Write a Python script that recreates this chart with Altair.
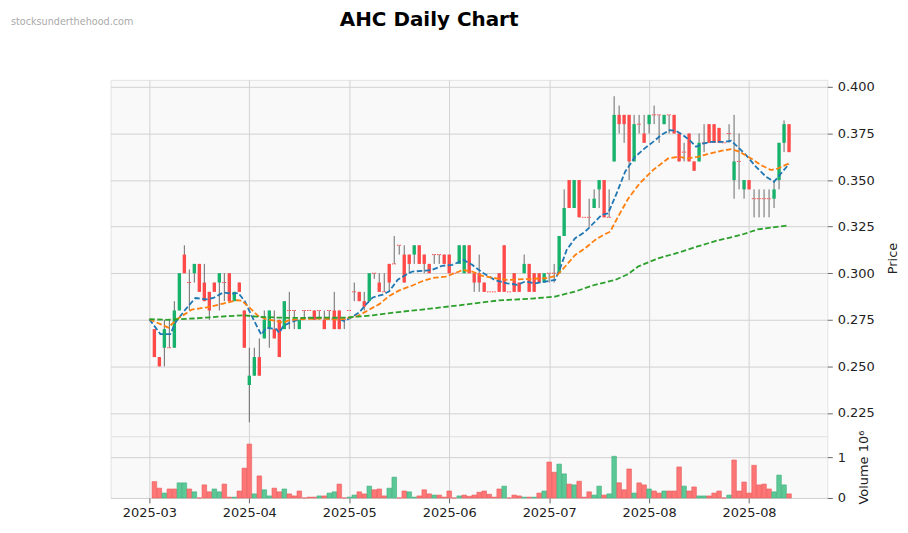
import json
import altair as alt
import pandas as pd
import numpy as np

title_text = "AHC Daily Chart"
watermark = "stocksunderthehood.com"

tick_idx = [0, 20, 40, 60, 80, 100, 120]
tick_labels = ["2025-03", "2025-04", "2025-05", "2025-06", "2025-07", "2025-08", "2025-08"]
price_ticks = [0.225, 0.250, 0.275, 0.300, 0.325, 0.350, 0.375, 0.400]

opens = [
    .270, .255, .260, .260, .260, .280, .310, .295, .300, .305,
    .295, .290, .295, .295, .295, .300, .285, .295, .280, .240,
    .245, .255, .265, .270, .270, .275, .270, .280, .280, .270,
    .280, .280, .280, .280, .275, .280, .280, .280, .275, .280,
    .290, .290, .285, .285, .300, .295, .290, .305, .305, .315,
    .310, .310, .310, .315, .310, .305, .310, .310, .310, .310,
    .300, .305, .300, .315, .300, .300, .295, .290, .290, .300,
    .315, .290, .300, .295, .300, .305, .300, .300, .295, .300,
    .300, .300, .320, .350, .335, .350, .330, .330, .335, .345,
    .350, .330, .360, .385, .385, .385, .360, .380, .375, .380,
    .385, .385, .380, .385, .385, .375, .365, .375, .360, .360,
    .370, .380, .380, .378, .370, .375, .350, .360, .345, .350,
    .340, .340, .340, .340, .340, .350, .370, .380]
highs = [
    .270, .255, .275, .275, .285, .300, .315, .302, .305, .305,
    .305, .290, .295, .300, .300, .300, .290, .295, .280, .260,
    .260, .265, .280, .280, .280, .275, .285, .290, .280, .275,
    .280, .280, .280, .280, .280, .280, .290, .280, .275, .280,
    .295, .290, .290, .300, .300, .300, .300, .305, .320, .315,
    .315, .310, .315, .315, .310, .305, .310, .310, .310, .310,
    .300, .315, .315, .315, .300, .310, .295, .290, .290, .300,
    .315, .290, .300, .295, .310, .305, .300, .300, .300, .300,
    .305, .320, .345, .350, .350, .350, .330, .340, .345, .350,
    .350, .345, .395, .390, .385, .385, .385, .385, .385, .385,
    .390, .385, .385, .385, .385, .375, .370, .375, .360, .375,
    .380, .380, .380, .378, .370, .380, .385, .375, .350, .350,
    .345, .345, .345, .345, .350, .370, .382, .380]
lows = [
    .255, .250, .250, .260, .260, .280, .300, .280, .295, .290,
    .285, .275, .290, .280, .285, .285, .285, .290, .260, .220,
    .245, .245, .265, .260, .265, .255, .270, .270, .270, .270,
    .275, .280, .275, .275, .270, .275, .270, .270, .270, .280,
    .285, .285, .280, .285, .297, .290, .290, .290, .305, .310,
    .295, .300, .305, .305, .300, .300, .305, .305, .305, .300,
    .300, .305, .300, .300, .290, .290, .290, .290, .290, .290,
    .290, .290, .290, .290, .300, .290, .290, .295, .295, .295,
    .295, .300, .320, .335, .335, .330, .330, .325, .335, .335,
    .330, .330, .360, .375, .370, .350, .360, .375, .370, .375,
    .380, .370, .380, .375, .375, .360, .360, .360, .355, .360,
    .365, .370, .370, .370, .370, .370, .340, .345, .340, .345,
    .330, .330, .330, .330, .335, .345, .365, .365]
closes = [
    .255, .250, .270, .260, .280, .300, .300, .295, .305, .290,
    .285, .280, .290, .300, .295, .285, .290, .290, .260, .245,
    .255, .245, .275, .280, .265, .255, .285, .280, .280, .275,
    .280, .280, .275, .280, .270, .280, .270, .270, .275, .280,
    .290, .285, .282, .300, .300, .290, .290, .295, .305, .315,
    .295, .305, .315, .305, .305, .300, .310, .310, .305, .300,
    .300, .315, .315, .300, .295, .295, .290, .290, .290, .290,
    .290, .290, .290, .290, .305, .290, .290, .295, .300, .300,
    .300, .320, .335, .335, .350, .330, .330, .330, .340, .350,
    .330, .330, .385, .380, .380, .360, .380, .380, .370, .385,
    .385, .385, .385, .385, .375, .360, .365, .360, .355, .370,
    .370, .370, .370, .370, .370, .375, .360, .360, .350, .345,
    .340, .340, .340, .340, .345, .370, .380, .365]
volumes = [  # millions
    .40, .24, .12, .22, .22, .37, .37, .22, .15, 0,
    .32, .15, .22, .15, .34, .02, .02, .17, .73, 1.32,
    .10, .54, .20, .05, .24, .15, .22, .10, .05, .17,
    0, .02, .02, .05, .05, .12, .15, .34, 0, .02,
    .07, .15, .10, .29, .20, .22, .05, .24, .51, 0,
    .17, .15, .02, .05, .20, .10, .07, .07, .02, .17,
    0, .05, .07, .04, .07, .14, .17, .09, .02, .22,
    .29, 0, .07, .05, .02, .02, .02, .12, .17, .88,
    .63, .83, .59, .34, .32, .41, .02, .15, .07, .29,
    .07, .10, 1.02, .37, .20, .71, .12, .37, .32, .22,
    .17, .12, .17, .17, .17, .76, .29, .17, .27, .05,
    .05, .05, .12, .17, 0, .07, .93, .17, .39, .12,
    .80, .32, .34, .22, .15, .56, .32, .10]
vol_dirs = ("ddudduudud" "dduudduddd" "uduudduddd" "ddduduuddu"
            "udduddduud" "duuddduddd" "dudddddddd" "udddududud"
            "duududdduu" "duuddduddu" "dduddduddu" "uddddudddd"
            "dddduuud")

ma_blue_idx = [0, 2.2, 4.2, 5.2, 7.2, 9.2, 11.5, 12.8, 14.8, 16.5, 17.8, 19.1, 20.5, 21.8, 22.4, 23.4, 25.4, 26,
               26.8, 28.1, 30.1, 32.1, 35.4, 38, 39, 40.4, 42, 43.4, 44.7, 46.7, 48, 49.7, 51.3, 52.6, 55.3, 56.6,
               58.6, 60.6, 62.9, 64.6, 66.6, 69.3, 71.6, 73.6, 75.2, 77.2, 79.2, 81.2, 82.2, 83.5, 85.2, 87.2,
               88.2, 89.5, 90.5, 91.8, 93.5, 95.2, 97.2, 99.1, 100.8, 102.4, 104.1, 105.4, 106.8, 108.1, 109.4,
               110.8, 112.4, 115.1, 116.4, 117.7, 119.4, 121.4, 123.4, 125, 126.4, 128]
ma_blue_val = [.2753, .2673, .2673, .2735, .2805, .2867, .286, .2867, .2897, .289, .2894, .285, .277, .270, .267,
               .2708, .270, .268, .2717, .2735, .2753, .2762, .2757, .2753, .2744, .2762, .279, .2834, .287, .2885,
               .2903, .2965, .2991, .3009, .3014, .3018, .304, .3045, .3071, .3045, .3004, .2961, .2946, .2938,
               .2955, .2946, .2955, .2964, .3027, .3125, .3188, .3223, .325, .3286, .3313, .3321, .3429, .3545,
               .3625, .367, .3705, .3741, .3768, .3764, .3741, .3714, .3679, .3696, .3705, .3705, .3711, .3679,
               .3634, .3571, .3518, .3491, .3536, .3586]
ma_orange_idx = [0, 3.8, 5.5, 8.5, 11.5, 14.8, 17.5, 18.5, 20.1, 21.8, 23.4, 25.4, 26.8, 28.1, 30.1, 34.7, 38, 40,
                 41.7, 44, 46, 48, 50, 52.6, 54.6, 56.6, 59.3, 62, 62.6, 64.6, 66.6, 69.3, 71.6, 76.6, 79.2, 81.5,
                 83.2, 85.2, 87.2, 89.2, 90.8, 92.2, 93.8, 95.8, 98.1, 100.8, 103.8, 105.8, 107.8, 109.7, 111.7,
                 114.4, 116.4, 118.1, 120.4, 122.4, 124.4, 125.7, 128]
ma_orange_val = [.2753, .2708, .2753, .2805, .2817, .2837, .2855, .2853, .2814, .277, .2753, .2744, .2735, .2749,
                 .2753, .2757, .275, .2762, .277, .2805, .2834, .2878, .2908, .2934, .2957, .2974, .2982, .3009,
                 .3018, .3009, .2986, .2973, .2964, .297, .2973, .2986, .3036, .3098, .3134, .3179, .3205, .3223,
                 .3304, .340, .3482, .3554, .3616, .3625, .3616, .3625, .3639, .3657, .3666, .3652, .3616, .358,
                 .3554, .3562, .3589]
ma_green_idx = [0, 3.5, 8.8, 14.1, 18.8, 21.5, 25.4, 28.1, 39.4, 44.7, 49.3, 54.6, 62, 69.9, 76.6, 81.2, 85.2,
                89.2, 93.2, 95.8, 97.8, 101.8, 105.8, 109.7, 113.7, 118.3, 121.7, 127.6]
ma_green_val = [.2753, .275, .2757, .2767, .2774, .2767, .2762, .276, .2762, .2774, .279, .2805, .2828, .2854,
                .2864, .2875, .2902, .2938, .2964, .2995, .3036, .308, .311, .3144, .3176, .3205, .3235, .3256]

UP, DOWN = "#17b26c", "#ff4a4a"
VUP, VDOWN = "#4cc38c", "#ff6868"

n = len(opens)
idx = list(range(1, n + 1))
df = pd.DataFrame(dict(idx=idx, open=opens, high=highs, low=lows, close=closes))
df["dir"] = np.where(df["close"] > df["open"], "up", "down")
body = df[df["open"] != df["close"]]
doji = df[df["open"] == df["close"]].copy()
doji["x1"] = doji["idx"] - 0.45
doji["x2"] = doji["idx"] + 0.45

vol_df = pd.DataFrame(dict(idx=idx, vol=volumes,
                           dir=["up" if c == "u" else "down" for c in vol_dirs[:n]]))

ma_df = pd.concat([
    pd.DataFrame(dict(idx=ma_blue_idx, val=ma_blue_val, s="a")),
    pd.DataFrame(dict(idx=ma_orange_idx, val=ma_orange_val, s="b")),
    pd.DataFrame(dict(idx=ma_green_idx, val=ma_green_val, s="c")),
])

x_scale = alt.Scale(domain=[-7.77, 135.66], nice=False, zero=False, padding=0)
y_scale = alt.Scale(domain=[0.2125, 0.4038], nice=False, zero=False)

x_axis_top = alt.Axis(values=tick_idx, labels=False, ticks=False, domain=False, grid=True, title=None)
x_top = alt.X("idx:Q", scale=x_scale, axis=x_axis_top)
price_axis = alt.Axis(orient="right", values=price_ticks, format=".3f", title="Price", titleAngle=270,
                      titleBaseline="top", titlePadding=12, tickSize=5, labelPadding=5, domain=False, grid=True)
col = alt.Color("dir:N", scale=alt.Scale(domain=["up", "down"], range=[UP, DOWN]), legend=None)

wicks = alt.Chart(df).mark_rule(color="#6a6a6a", strokeWidth=1).encode(
    x=x_top, y=alt.Y("low:Q", scale=y_scale, axis=price_axis), y2="high:Q")
bodies = alt.Chart(body).mark_bar(size=3.4).encode(
    x=x_top, y=alt.Y("open:Q", scale=y_scale, axis=price_axis), y2="close:Q", color=col)
dojis = alt.Chart(doji).mark_rule(color=DOWN, strokeWidth=1, strokeDash=[1.5, 1]).encode(
    x=alt.X("x1:Q", scale=x_scale, axis=x_axis_top),
    x2="x2:Q", y=alt.Y("close:Q", scale=y_scale, axis=price_axis))
mas = alt.Chart(ma_df).mark_line(strokeWidth=1.8, strokeDash=[5.5, 2.5]).encode(
    x=x_top, y=alt.Y("val:Q", scale=y_scale, axis=price_axis),
    color=alt.Color("s:N", scale=alt.Scale(domain=["a", "b", "c"], range=["#1f77b4", "#ff7f0e", "#2ca02c"]),
                    legend=None))
title_mark = alt.Chart(pd.DataFrame({"t": [title_text]})).mark_text(
    font="DejaVu Sans", fontSize=20, fontWeight="bold", align="center", baseline="top", color="#000"
).encode(x=alt.value(320), y=alt.value(-70), text="t:N")
wm_mark = alt.Chart(pd.DataFrame({"t": [watermark]})).mark_text(
    font="DejaVu Sans", fontSize=9.7, align="left", baseline="top", color="#aaaaaa"
).encode(x=alt.value(-100), y=alt.value(-63), text="t:N")

price = alt.layer(wicks, bodies, dojis, mas, title_mark, wm_mark).resolve_scale(color="independent").properties(
    width=720, height=358)

label_expr = "%s[round(datum.value / 20)]" % json.dumps(tick_labels)
vol = alt.Chart(vol_df).mark_bar(size=4.6, opacity=0.9, strokeWidth=0.6).encode(
    x=alt.X("idx:Q", scale=x_scale,
            axis=alt.Axis(values=tick_idx, labelExpr=label_expr, grid=True, ticks=True, tickSize=5,
                          domain=False, title=None, labelPadding=4)),
    y=alt.Y("vol:Q", scale=alt.Scale(domain=[0, 1.512], nice=False, zero=True),
            axis=alt.Axis(orient="right", values=[0, 1], format="d", title="Volume  10⁶", titleAngle=270,
                          titleBaseline="top", titlePadding=12, tickSize=5, labelPadding=5, domain=False,
                          grid=True)),
    color=alt.Color("dir:N", scale=alt.Scale(domain=["up", "down"], range=[VUP, VDOWN]), legend=None),
    stroke=alt.Stroke("dir:N", scale=alt.Scale(domain=["up", "down"], range=["#2aa86f", "#e84848"]),
                      legend=None),
).properties(width=720, height=62)

chart = alt.vconcat(price, vol, spacing=0, bounds="flush").resolve_scale(color="independent").properties(
    padding={"left": 2, "top": 0, "right": 0, "bottom": 4}
).configure_view(fill="#f9f9f9", stroke="#e3e3e3").configure_axis(
    labelFont="DejaVu Sans", titleFont="DejaVu Sans", labelFontSize=13, titleFontSize=13,
    titleFontWeight="normal", labelColor="#222", titleColor="#222", tickColor="#666",
    gridColor="#d2d2d2", gridWidth=1
)

chart.save("out.html", embed_options={"renderer": "svg", "actions": False})
